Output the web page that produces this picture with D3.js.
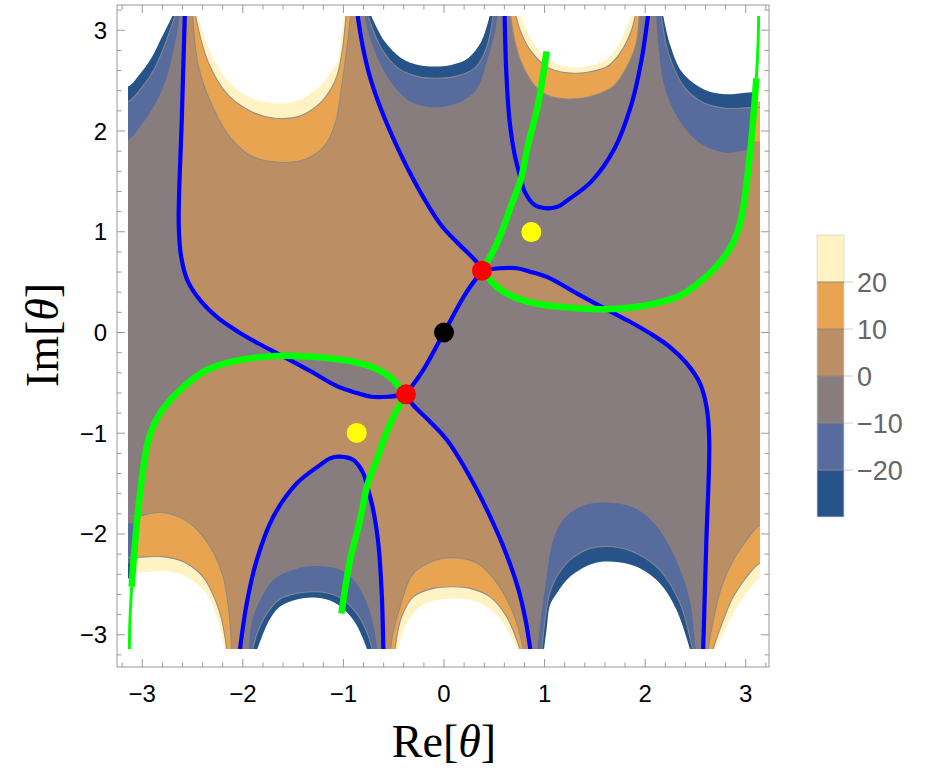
<!DOCTYPE html>
<html><head><meta charset="utf-8">
<script src="https://cdn.jsdelivr.net/npm/d3@7"></script>
<style>body{margin:0;background:#fff}</style>
</head><body>
<svg id="chart" width="926" height="780"></svg>
<script>
const PI = Math.PI;
// ---------------- data (θ-plane coordinates) ----------------
const levels = [-30, -20, -10, 0, 10, 20, 30];
const levelColors = ["#25538A", "#576C9D", "#877D7F", "#BB8F63", "#E8A450", "#FFF2C3"];
const legendTicks = [-20, -10, 0, 10, 20];
const axisTicks = [-3, -2, -1, 0, 1, 2, 3];

const saddlePoints = [[0.378, 0.614], [-0.378, -0.614]];
const originPoint = [[0, 0]];
const yellowPoints = [[0.868, 0.997], [-0.868, -0.997]];

const blueA_top = [[-0.858,3.1416],[-0.81,2.85],[-0.74,2.55],[-0.62,2.2],[-0.46,1.83],[-0.25,1.42],[-0.03,1.068],[0.139,0.886],[0.321,0.703],[0.378,0.614]];
const blueA_mid = [[0.378,0.614],[0.206,0.372],[0,0],[-0.206,-0.372],[-0.378,-0.614]];
const blueA_bot = [[-0.378,-0.614],[-0.321,-0.703],[-0.139,-0.886],[0.03,-1.068],[0.25,-1.42],[0.46,-1.83],[0.62,-2.2],[0.74,-2.55],[0.81,-2.85],[0.858,-3.1416]];
const blueB = [[-2.577,3.1416],[-2.607,2.11],[-2.637,1.068],[-2.611,0.740],[-2.545,0.504],[-2.413,0.306],[-2.247,0.144],[-2.048,0.008],[-1.849,-0.107],[-1.61,-0.232],[-1.319,-0.389],[-1.054,-0.538],[-0.855,-0.604],[-0.723,-0.638],[-0.557,-0.638],[-0.378,-0.614]];
const blueBp = [[0.378,0.614],[0.557,0.638],[0.723,0.638],[0.855,0.604],[1.054,0.538],[1.319,0.389],[1.61,0.232],[1.849,0.107],[2.048,-0.008],[2.247,-0.144],[2.413,-0.306],[2.545,-0.504],[2.611,-0.740],[2.637,-1.068],[2.607,-2.11],[2.577,-3.1416]];
const blueC = [[0.603,3.1416],[0.619,2.590],[0.653,2.093],[0.703,1.763],[0.762,1.531],[0.802,1.398],[0.901,1.266],[1.034,1.233],[1.133,1.249],[1.233,1.316],[1.464,1.498],[1.697,1.829],[1.862,2.259],[1.961,2.689],[2.028,3.1416]];
const blueCp = [[-0.603,-3.1416],[-0.619,-2.590],[-0.653,-2.093],[-0.703,-1.763],[-0.762,-1.531],[-0.802,-1.398],[-0.901,-1.266],[-1.034,-1.233],[-1.133,-1.249],[-1.233,-1.316],[-1.464,-1.498],[-1.697,-1.829],[-1.862,-2.259],[-1.961,-2.689],[-2.028,-3.1416]];

const greenNE = [[0.378,0.614],[0.421,0.687],[0.504,0.836],[0.60,1.068],[0.669,1.266],[0.762,1.514],[0.835,1.862],[0.934,2.259],[1.02,2.79]];
const greenSE = [[0.378,0.614],[0.44,0.545],[0.54,0.44],[0.70,0.35],[0.90,0.29],[1.1,0.26],[1.61,0.232],[2.028,0.273],[2.359,0.372],[2.624,0.571],[2.823,0.802],[2.939,1.068],[3.022,1.597],[3.072,2.093],[3.105,2.524],[3.122,2.855],[3.128,3.1416]];
const greenSW = [[-0.378,-0.614],[-0.421,-0.687],[-0.504,-0.836],[-0.60,-1.068],[-0.669,-1.266],[-0.762,-1.514],[-0.835,-1.862],[-0.934,-2.259],[-1.02,-2.79]];
const greenNW = [[-0.378,-0.614],[-0.44,-0.545],[-0.54,-0.44],[-0.70,-0.35],[-0.90,-0.29],[-1.1,-0.26],[-1.61,-0.232],[-2.028,-0.273],[-2.359,-0.372],[-2.624,-0.571],[-2.823,-0.802],[-2.939,-1.068],[-3.022,-1.597],[-3.072,-2.093],[-3.105,-2.524],[-3.122,-2.855],[-3.128,-3.1416]];

// level curves of the bumps at the top edge
const P1_10 = [[-2.50,3.1416],[-2.44,2.64],[-2.30,2.24],[-2.12,1.93],[-1.91,1.75],[-1.65,1.69],[-1.38,1.72],[-1.19,1.85],[-1.08,2.08],[-1.02,2.43],[-0.97,2.78],[-0.93,3.1416]];
const P1_20 = [[-2.47,3.1416],[-2.346,2.689],[-2.147,2.358],[-1.916,2.193],[-1.684,2.127],[-1.451,2.143],[-1.252,2.259],[-1.120,2.425],[-1.054,2.58],[-1.004,2.855],[-0.975,3.1416]];
const P1_30 = [[-2.445,3.1416],[-2.313,2.756],[-2.147,2.491],[-1.916,2.326],[-1.684,2.276],[-1.485,2.292],[-1.252,2.425],[-1.120,2.590],[-1.054,2.706],[-1.021,2.938],[-0.995,3.1416]];
const N1_10 = [[-0.79,3.1416],[-0.70,2.82],[-0.53,2.49],[-0.33,2.29],[-0.09,2.235],[0.14,2.28],[0.32,2.41],[0.43,2.70],[0.51,3.0],[0.53,3.1416]];
const N1_20 = [[-0.755,3.1416],[-0.623,2.822],[-0.457,2.624],[-0.258,2.54],[-0.092,2.524],[0.106,2.54],[0.305,2.624],[0.421,2.822],[0.487,3.1416]];
const N1_30 = [[-0.723,3.1416],[-0.589,2.888],[-0.424,2.723],[-0.258,2.656],[-0.092,2.640],[0.073,2.656],[0.239,2.723],[0.371,2.888],[0.454,3.1416]];
const P2_10 = [[0.663,3.1416],[0.713,2.855],[0.795,2.62],[0.92,2.43],[1.04,2.35],[1.2,2.32],[1.37,2.325],[1.54,2.37],[1.69,2.45],[1.82,2.64],[1.91,2.87],[1.94,3.1416]];
const P2_20 = [[0.716,3.1416],[0.756,3.004],[0.855,2.806],[1.034,2.630],[1.166,2.585],[1.315,2.574],[1.464,2.590],[1.630,2.645],[1.755,2.78],[1.86,2.99],[1.90,3.1416]];
const P2_30 = [[0.765,3.1416],[0.865,2.91],[0.994,2.75],[1.133,2.66],[1.30,2.63],[1.464,2.65],[1.630,2.72],[1.740,2.86],[1.855,3.1416]];
const N2_10 = [[2.11,3.1416],[2.14,2.76],[2.2,2.41],[2.35,2.09],[2.56,1.87],[2.80,1.785],[3.05,1.82],[3.3,1.83]];
const N2_20 = [[2.16,3.1416],[2.21,2.85],[2.26,2.69],[2.385,2.44],[2.58,2.28],[2.80,2.225],[3.0,2.23],[3.3,2.24]];
const N2_30 = [[2.18,3.1416],[2.25,2.85],[2.37,2.58],[2.59,2.41],[2.80,2.365],[3.0,2.38],[3.3,2.40]];
const NL_10 = [[-3.3,1.91],[-3.141,1.912],[-3.009,2.061],[-2.876,2.259],[-2.76,2.524],[-2.677,2.855],[-2.627,3.1416]];
const NL_20 = [[-3.3,2.29],[-3.141,2.292],[-3.009,2.425],[-2.876,2.624],[-2.777,2.855],[-2.694,3.087],[-2.675,3.1416]];
const NL_30 = [[-3.3,2.44],[-3.141,2.441],[-3.042,2.541],[-2.909,2.724],[-2.81,2.922],[-2.727,3.087],[-2.70,3.1416]];
// level curves of the bumps at the bottom edge
const P3_10 = [[0.79,-3.1416],[0.70,-2.82],[0.53,-2.49],[0.33,-2.29],[0.09,-2.235],[-0.14,-2.28],[-0.32,-2.41],[-0.43,-2.70],[-0.51,-3.0],[-0.53,-3.1416]];
const P3_20 = [[0.755,-3.1416],[0.623,-2.822],[0.457,-2.624],[0.258,-2.54],[0.092,-2.524],[-0.106,-2.54],[-0.305,-2.624],[-0.421,-2.822],[-0.487,-3.1416]];
const P3_30 = [[0.723,-3.1416],[0.589,-2.888],[0.424,-2.723],[0.258,-2.656],[0.092,-2.640],[-0.073,-2.656],[-0.239,-2.723],[-0.371,-2.888],[-0.454,-3.1416]];
const N3_10 = [[2.50,-3.1416],[2.44,-2.64],[2.30,-2.24],[2.12,-1.93],[1.91,-1.75],[1.65,-1.69],[1.38,-1.72],[1.19,-1.85],[1.08,-2.08],[1.02,-2.43],[0.97,-2.78],[0.93,-3.1416]];
const N3_20 = [[2.47,-3.1416],[2.346,-2.689],[2.147,-2.358],[1.916,-2.193],[1.684,-2.127],[1.451,-2.143],[1.252,-2.259],[1.120,-2.425],[1.054,-2.58],[1.004,-2.855],[0.975,-3.1416]];
const N3_30 = [[2.445,-3.1416],[2.313,-2.756],[2.147,-2.491],[1.916,-2.326],[1.684,-2.276],[1.485,-2.292],[1.252,-2.425],[1.120,-2.590],[1.054,-2.706],[1.021,-2.938],[0.995,-3.1416]];
const N4_10 = [[-0.663,-3.1416],[-0.713,-2.855],[-0.795,-2.62],[-0.92,-2.43],[-1.04,-2.35],[-1.2,-2.32],[-1.37,-2.325],[-1.54,-2.37],[-1.69,-2.45],[-1.82,-2.64],[-1.91,-2.87],[-1.94,-3.1416]];
const N4_20 = [[-0.716,-3.1416],[-0.756,-3.004],[-0.855,-2.806],[-1.034,-2.630],[-1.166,-2.585],[-1.315,-2.574],[-1.464,-2.590],[-1.630,-2.645],[-1.755,-2.78],[-1.86,-2.99],[-1.90,-3.1416]];
const N4_30 = [[-0.765,-3.1416],[-0.865,-2.91],[-0.994,-2.75],[-1.133,-2.66],[-1.30,-2.63],[-1.464,-2.65],[-1.630,-2.72],[-1.740,-2.86],[-1.855,-3.1416]];
const P4_10 = [[-2.11,-3.1416],[-2.14,-2.76],[-2.2,-2.41],[-2.35,-2.09],[-2.56,-1.87],[-2.80,-1.785],[-3.05,-1.82],[-3.3,-1.83]];
const P4_20 = [[-2.16,-3.1416],[-2.21,-2.85],[-2.26,-2.69],[-2.385,-2.44],[-2.58,-2.28],[-2.80,-2.225],[-3.0,-2.23],[-3.3,-2.24]];
const P4_30 = [[-2.18,-3.1416],[-2.25,-2.85],[-2.37,-2.58],[-2.59,-2.41],[-2.80,-2.365],[-3.0,-2.38],[-3.3,-2.40]];
const PR_10 = [[3.3,-1.91],[3.141,-1.912],[3.009,-2.061],[2.876,-2.259],[2.76,-2.524],[2.677,-2.855],[2.627,-3.1416]];
const PR_20 = [[3.3,-2.29],[3.141,-2.292],[3.009,-2.425],[2.876,-2.624],[2.777,-2.855],[2.694,-3.087],[2.675,-3.1416]];
const PR_30 = [[3.3,-2.44],[3.141,-2.441],[3.042,-2.541],[2.909,-2.724],[2.81,-2.922],[2.727,-3.087],[2.70,-3.1416]];

// thin strips beyond the green curve near x = ±π: [value, polygon]
const stripR = [
  [5,  [[2.98,1.45],[3.022,1.597],[3.072,2.093],[3.105,2.524],[3.122,2.855],[3.128,3.3],[3.3,3.3],[3.3,1.45]]],
  [15, [[3.055,1.895],[3.072,2.093],[3.105,2.524],[3.122,2.855],[3.128,3.3],[3.3,3.3],[3.3,1.895]]],
  [25, [[3.09,2.292],[3.105,2.524],[3.122,2.855],[3.128,3.3],[3.3,3.3],[3.3,2.292]]],
  [35, [[3.10,2.441],[3.105,2.524],[3.122,2.855],[3.128,3.3],[3.3,3.3],[3.3,2.441]]]
];
const stripL = [
  [-5,  [[-2.98,-1.45],[-3.022,-1.597],[-3.072,-2.093],[-3.105,-2.524],[-3.122,-2.855],[-3.128,-3.3],[-3.3,-3.3],[-3.3,-1.45]]],
  [-15, [[-3.055,-1.895],[-3.072,-2.093],[-3.105,-2.524],[-3.122,-2.855],[-3.128,-3.3],[-3.3,-3.3],[-3.3,-1.895]]],
  [-25, [[-3.09,-2.292],[-3.105,-2.524],[-3.122,-2.855],[-3.128,-3.3],[-3.3,-3.3],[-3.3,-2.292]]],
  [-35, [[-3.10,-2.441],[-3.105,-2.524],[-3.122,-2.855],[-3.128,-3.3],[-3.3,-3.3],[-3.3,-2.441]]]
];

// ---------------- drawing ----------------
const svg = d3.select("#chart");
const x = d3.scaleLinear().domain([-PI, PI]).range([128, 760]);
const y = d3.scaleLinear().domain([-PI, PI]).range([649, 16]);
const fill = d3.scaleThreshold().domain([-30, -20, -10, 0, 10, 20, 30])
  .range(["#ffffff"].concat(levelColors).concat(["#ffffff"]));

const smooth = d3.line().x(d => x(d[0])).y(d => y(d[1])).curve(d3.curveCatmullRom.alpha(0.5));
const lin = d3.line().x(d => x(d[0])).y(d => y(d[1]));
function region(parts) {
  return parts.map((p, i) => {
    const s = (p[1] ? smooth : lin)(p[0]);
    return i ? s.replace(/^M/, "L") : s;
  }).join("") + "Z";
}
const rev = a => a.slice().reverse();

svg.append("defs").append("clipPath").attr("id", "plotclip")
  .append("rect").attr("x", x(-PI)).attr("y", y(PI))
  .attr("width", x(PI) - x(-PI)).attr("height", y(-PI) - y(PI));

const g = svg.append("g").attr("clip-path", "url(#plotclip)");
g.append("rect").attr("x", x(-PI)).attr("y", y(PI))
  .attr("width", x(PI) - x(-PI)).attr("height", y(-PI) - y(PI)).attr("fill", fill(-5));

// 0..10 regions
const tanRegions = [
  [[blueB.slice(0, 10), 1], [rev(greenNW.slice(0, 7)), 1], [rev(blueA_mid), 1], [rev(blueA_top), 1], [[[-0.858, 3.5], [-2.577, 3.5]], 0]],
  [[blueA_bot, 1], [[[0.858, -3.5], [-0.603, -3.5]], 0], [blueCp, 1], [[[-2.028, -3.5], [-3.128, -3.5]], 0], [rev(greenNW.slice(6)), 1], [blueB.slice(9), 1]],
  [[blueBp.slice(0, 7), 1], [rev(greenSE.slice(0, 7)), 1]],
  [[greenSE.slice(6), 1], [[[3.128, 3.5], [3.5, 3.5], [3.5, -3.5], [2.577, -3.5]], 0], [rev(blueBp.slice(6)), 1]]
];
tanRegions.forEach(parts => g.append("path").attr("d", region(parts)).attr("fill", fill(5)));

// bumps: [value inside curve, curve, edge side]
const bumps = [
  [15, P1_10, 1], [25, P1_20, 1], [35, P1_30, 1],
  [-15, N1_10, 1], [-25, N1_20, 1], [-35, N1_30, 1],
  [15, P2_10, 1], [25, P2_20, 1], [35, P2_30, 1],
  [-15, N2_10, 1], [-25, N2_20, 1], [-35, N2_30, 1],
  [-15, NL_10, 1], [-25, NL_20, 1], [-35, NL_30, 1],
  [15, P3_10, -1], [25, P3_20, -1], [35, P3_30, -1],
  [-15, N3_10, -1], [-25, N3_20, -1], [-35, N3_30, -1],
  [-15, N4_10, -1], [-25, N4_20, -1], [-35, N4_30, -1],
  [15, P4_10, -1], [25, P4_20, -1], [35, P4_30, -1],
  [15, PR_10, -1], [25, PR_20, -1], [35, PR_30, -1]
];
bumps.forEach(([v, c, e]) => {
  const last = c[c.length - 1], first = c[0];
  g.append("path").attr("d", region([[c, 1], [[[last[0], 3.5 * e], [first[0], 3.5 * e]], 0]]))
    .attr("fill", fill(v));
});
stripR.concat(stripL).forEach(([v, poly]) => {
  g.append("path").attr("d", lin(poly) + "Z").attr("fill", fill(v));
});

// thin contour lines (+10, ±20)
bumps.filter(b => Math.abs(b[0]) === 25 || b[0] === 15).forEach(([v, c]) => {
  g.append("path").attr("d", smooth(c)).attr("fill", "none")
    .attr("stroke", "#8a8a8a").attr("stroke-width", 1.1).attr("stroke-opacity", 0.9);
});

// blue curves
[blueA_top, blueA_mid, blueA_bot, blueB, blueBp, blueC, blueCp].forEach(c => {
  g.append("path").attr("d", smooth(c)).attr("fill", "none")
    .attr("stroke", "#0000ff").attr("stroke-width", 4.2);
});
// green curves (thinner where they run along the edge)
[[greenNE, 6.5], [greenSW, 6.5], [greenSE.slice(0, 15), 6.5], [greenNW.slice(0, 15), 6.5],
 [greenSE.slice(14), 3], [greenNW.slice(14), 3]].forEach(([c, w]) => {
  g.append("path").attr("d", smooth(c)).attr("fill", "none")
    .attr("stroke", "#00ff00").attr("stroke-width", w);
});
// points
const dot = (pts, col) => g.selectAll(null).data(pts).enter().append("circle")
  .attr("cx", d => x(d[0])).attr("cy", d => y(d[1])).attr("r", 10).attr("fill", col);
dot(yellowPoints, "#ffff00");
dot(saddlePoints, "#ff0000");
dot(originPoint, "#000000");

// ---------------- frame, ticks ----------------
const fx0 = 117, fx1 = 769, fy0 = 5, fy1 = 667;
svg.append("rect").attr("x", fx0).attr("y", fy0).attr("width", fx1 - fx0).attr("height", fy1 - fy0)
  .attr("fill", "none").attr("stroke", "#9a9a9a").attr("stroke-width", 1);
const minor = d3.range(-16, 17).map(i => i * 0.2).filter(v => Math.abs(v - Math.round(v)) > 1e-6);
const tk = svg.append("g").attr("stroke", "#9a9a9a").attr("stroke-width", 1);
function ticksAt(vals, len) {
  vals.forEach(v => {
    tk.append("line").attr("x1", x(v)).attr("x2", x(v)).attr("y1", fy1).attr("y2", fy1 - len);
    tk.append("line").attr("x1", x(v)).attr("x2", x(v)).attr("y1", fy0).attr("y2", fy0 + len);
    tk.append("line").attr("y1", y(v)).attr("y2", y(v)).attr("x1", fx0).attr("x2", fx0 + len);
    tk.append("line").attr("y1", y(v)).attr("y2", y(v)).attr("x1", fx1).attr("x2", fx1 - len);
  });
}
ticksAt(axisTicks, 8);
ticksAt(minor, 4.5);
const fmt = v => (v < 0 ? "\u2212" + Math.abs(v) : String(v));
const lab = svg.append("g").attr("font-family", "'Liberation Sans', Arial, sans-serif").attr("font-size", 24).attr("fill", "#000");
axisTicks.forEach(v => {
  lab.append("text").attr("x", x(v)).attr("y", 702).attr("text-anchor", "middle").text(fmt(v));
  lab.append("text").attr("x", 107).attr("y", y(v) + 8.5).attr("text-anchor", "end").text(fmt(v));
});
// axis titles
const t1 = svg.append("text").attr("x", 444).attr("y", 757).attr("text-anchor", "middle")
  .attr("font-family", "'Liberation Serif', 'Times New Roman', serif").attr("font-size", 46).attr("fill", "#000");
t1.append("tspan").text("Re[");
t1.append("tspan").attr("font-style", "italic").text("\u03B8");
t1.append("tspan").text("]");
const t2 = svg.append("text").attr("transform", "translate(58,335) rotate(-90)").attr("text-anchor", "middle")
  .attr("font-family", "'Liberation Serif', 'Times New Roman', serif").attr("font-size", 46).attr("fill", "#000");
t2.append("tspan").text("Im[");
t2.append("tspan").attr("font-style", "italic").text("\u03B8");
t2.append("tspan").text("]");

// ---------------- legend ----------------
const ly = d3.scaleLinear().domain([-30, 30]).range([517, 235]);
const leg = svg.append("g");
d3.pairs(levels).forEach(([a, b], i) => {
  leg.append("rect").attr("x", 817).attr("y", ly(b)).attr("width", 27).attr("height", ly(a) - ly(b))
    .attr("fill", levelColors[i]);
});
leg.append("rect").attr("x", 817).attr("y", ly(30)).attr("width", 27).attr("height", ly(-30) - ly(30))
  .attr("fill", "none").attr("stroke", "#d8d8d8").attr("stroke-width", 0.8);
legendTicks.forEach(v => {
  leg.append("line").attr("x1", 817).attr("x2", 844).attr("y1", ly(v)).attr("y2", ly(v))
    .attr("stroke", "#8a8a8a").attr("stroke-width", 1);
  leg.append("line").attr("x1", 844).attr("x2", 853).attr("y1", ly(v)).attr("y2", ly(v))
    .attr("stroke", "#cfcfcf").attr("stroke-width", 1);
  leg.append("text").attr("x", 857).attr("y", ly(v) + 10).attr("font-family", "'Liberation Sans', Arial, sans-serif")
    .attr("font-size", 27).attr("fill", "#666").text(fmt(v));
});
</script>
</body></html>
